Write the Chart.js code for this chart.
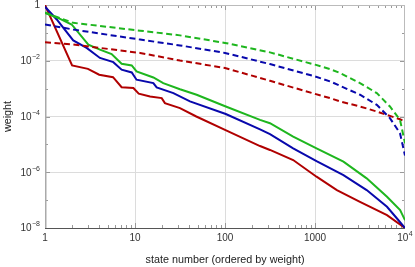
<!DOCTYPE html>
<html>
<head>
<meta charset="utf-8">
<script src="https://cdn.jsdelivr.net/npm/chart.js@4/dist/chart.umd.min.js"></script>
<style>
  html, body { margin: 0; padding: 0; background: #fff; }
  #box { width: 415px; height: 267px; }
</style>
</head>
<body>
<div id="box"><canvas id="grafico1" width="415" height="267"></canvas></div>
<script>
// solid curves
var xRed = [1, 2, 3, 4, 5.7, 7.1, 9.6, 11, 14.7, 19.8, 21.5, 31.6, 48, 100, 245, 316, 572, 1040, 1750, 3160, 6310, 10000];
var yRed = [1, 6.76e-3, 5.13e-3, 3.16e-3, 2.57e-3, 1.12e-3, 1.05e-3, 6.61e-4, 5.25e-4, 4.57e-4, 3.02e-4, 2.0e-4, 1.0e-4, 3.31e-5, 8.71e-6, 6.31e-6, 2.75e-6, 6.92e-7, 2.29e-7, 8.71e-8, 2.88e-8, 1e-8];

var xBlue = [1, 1.35, 2.06, 2.9, 4.08, 5.74, 7.1, 9.2, 10.4, 16, 17.4, 26.7, 40.8, 102, 245, 316, 572, 1040, 2070, 3750, 6310, 8150, 10000];
var yBlue = [0.871, 0.302, 0.0537, 0.0288, 0.0126, 8.91e-3, 4.79e-3, 3.80e-3, 2.09e-3, 1.58e-3, 1.10e-3, 6.92e-4, 3.47e-4, 1.23e-4, 3.47e-5, 2.34e-5, 7.24e-6, 2.51e-6, 7.94e-7, 2.29e-7, 5.75e-8, 2.19e-8, 1e-8];

var xGreen = [1, 1.47, 1.98, 3.03, 4.08, 5.5, 7.1, 9.2, 10.4, 16, 20.6, 31.6, 48.4, 102, 245, 316, 572, 1040, 2070, 3750, 6310, 8830, 10000];
var yGreen = [0.525, 0.316, 0.200, 0.0380, 0.0251, 0.0174, 7.76e-3, 6.76e-3, 4.17e-3, 2.51e-3, 1.58e-3, 9.55e-4, 6.03e-4, 2.29e-4, 7.59e-5, 5.75e-5, 1.91e-5, 7.24e-6, 2.40e-6, 6.03e-7, 1.32e-7, 4.37e-8, 1.91e-8];

// dashed curves (same x for all three)
var xDash = [1, 2.06, 11.4, 31.6, 100, 316, 1000, 1470, 1900, 3160, 4860, 6800, 8800, 10000];
var yGreenDash = [0.525, 0.229, 0.120, 0.0813, 0.0437, 0.0200, 7.24e-3, 5.01e-3, 3.63e-3, 1.58e-3, 6.92e-4, 2.29e-4, 7.59e-5, 1.1e-5];
var yBlueDash = [0.200, 0.132, 0.0575, 0.0355, 0.0191, 7.59e-3, 2.75e-3, 1.82e-3, 1.26e-3, 6.03e-4, 2.63e-4, 8.71e-5, 2.51e-5, 4.0e-6];
var yRedDash = [0.0457, 0.0380, 0.0191, 0.0102, 5.50e-3, 1.91e-3, 6.46e-4, 4.57e-4, 3.47e-4, 2.29e-4, 1.51e-4, 1.05e-4, 7.94e-5, 6.61e-5];

// ticks: [base, exponent]
var xTickVals = [1, 10, 100, 1000, 10000];
var xTickLabels = [["1", ""], ["10", ""], ["100", ""], ["1000", ""], ["10", "4"]];
var yTickVals = [1e-8, 1e-6, 1e-4, 1e-2, 1];
var yTickLabels = [["10", "\u22128"], ["10", "\u22126"], ["10", "\u22124"], ["10", "\u22122"], ["1", ""]];

var verde = "rgb(30,182,30)";
var azul = "rgb(8,8,172)";
var vermelho = "rgb(176,0,0)";
var fonte = "Liberation Sans, Arial, sans-serif";

function pares(xs, ys) {
  var out = [];
  for (var i = 0; i < xs.length; i++) out.push({ x: xs[i], y: ys[i] });
  return out;
}

function linha(xs, ys, cor, tracejado) {
  return {
    data: pares(xs, ys),
    borderColor: cor,
    borderWidth: 2,
    borderDash: tracejado ? [6, 3.5] : [],
    pointRadius: 0,
    tension: 0,
    fill: false,
  };
}

// label with superscript, anchored at (x, y); align = "right" or "center"
function rotulo(ctx, base, exp, x, y, align) {
  ctx.font = "10px " + fonte;
  var wb = ctx.measureText(base).width;
  ctx.font = "7px " + fonte;
  var we = exp ? ctx.measureText(exp).width + 0.5 : 0;
  var x0 = align == "right" ? x - wb - we : x - (wb + we) / 2;
  ctx.textAlign = "left";
  ctx.textBaseline = "middle";
  ctx.font = "10px " + fonte;
  ctx.fillText(base, x0, y);
  if (exp) {
    ctx.font = "7px " + fonte;
    ctx.fillText(exp, x0 + wb + 0.5, y - 4);
  }
}

// frame + inward ticks (Mathematica style) + tick labels
var moldura = {
  id: "moldura",
  beforeDatasetsDraw(chart) {
    var ctx = chart.ctx;
    var a = chart.chartArea;
    var sx = chart.scales.x;
    var sy = chart.scales.y;
    ctx.save();
    ctx.strokeStyle = "#999";
    ctx.lineWidth = 1;
    ctx.beginPath();
    for (var d = 1; d <= 1000; d *= 10) {
      for (var m = 1; m <= 9; m++) {
        var v = d * m;
        if (v <= 1 || v >= 10000) continue;
        var px = Math.round(sx.getPixelForValue(v)) + 0.5;
        var len = m == 1 ? 5 : 3;
        ctx.moveTo(px, a.bottom); ctx.lineTo(px, a.bottom - len);
        ctx.moveTo(px, a.top); ctx.lineTo(px, a.top + len);
      }
    }
    for (var e = -7; e <= -1; e++) {
      var py = Math.round(sy.getPixelForValue(Math.pow(10, e))) + 0.5;
      var l2 = e % 2 == 0 ? 5 : 3;
      ctx.moveTo(a.left, py); ctx.lineTo(a.left + l2, py);
      ctx.moveTo(a.right, py); ctx.lineTo(a.right - l2, py);
    }
    ctx.stroke();
    ctx.strokeStyle = "#bbb";
    ctx.beginPath();
    ctx.moveTo(a.left, a.top + 0.5); ctx.lineTo(a.right, a.top + 0.5);
    ctx.moveTo(a.right - 0.5, a.top); ctx.lineTo(a.right - 0.5, a.bottom);
    ctx.stroke();
    ctx.strokeStyle = "#aaa";
    ctx.lineWidth = 1.5;
    ctx.beginPath();
    ctx.moveTo(a.left + 0.75, a.top); ctx.lineTo(a.left + 0.75, a.bottom);
    ctx.stroke();
    ctx.strokeStyle = "#555";
    ctx.lineWidth = 1;
    ctx.beginPath();
    ctx.moveTo(a.left, a.bottom + 0.5); ctx.lineTo(a.right, a.bottom + 0.5);
    ctx.stroke();

    ctx.fillStyle = "#333";
    for (var i = 0; i < xTickVals.length; i++) {
      rotulo(ctx, xTickLabels[i][0], xTickLabels[i][1], sx.getPixelForValue(xTickVals[i]), a.bottom + 10.5, "center");
    }
    for (var j = 0; j < yTickVals.length; j++) {
      rotulo(ctx, yTickLabels[j][0], yTickLabels[j][1], a.left - 5, sy.getPixelForValue(yTickVals[j]) + 0.5, "right");
    }
    ctx.restore();
  },
};

const config = {
  type: "line",
  data: {
    datasets: [
      linha(xDash, yGreenDash, verde, true),
      linha(xDash, yBlueDash, azul, true),
      linha(xDash, yRedDash, vermelho, true),
      linha(xGreen, yGreen, verde, false),
      linha(xBlue, yBlue, azul, false),
      linha(xRed, yRed, vermelho, false),
    ],
  },
  options: {
    responsive: false,
    animation: false,
    layout: { padding: { top: 5, right: 10, left: 0, bottom: 0 } },
    plugins: { legend: { display: false }, tooltip: { enabled: false } },
    scales: {
      x: {
        type: "logarithmic",
        min: 1,
        max: 10000,
        afterBuildTicks: (scale) => {
          scale.ticks = xTickVals.map((v) => ({ value: v }));
        },
        afterFit: (scale) => {
          scale.height = 39;
        },
        ticks: { display: false },
        grid: {
          drawTicks: false,
          color: (c) => (c.tick && c.tick.value > 1 && c.tick.value < 10000 ? "#dcdcdc" : "rgba(0,0,0,0)"),
        },
        border: { display: false },
        title: {
          display: true,
          text: "state number (ordered by weight)",
          color: "#222",
          font: { family: fonte, size: 10.8 },
          padding: { top: 0, bottom: 0 },
        },
      },
      y: {
        type: "logarithmic",
        min: 1e-8,
        max: 1,
        afterBuildTicks: (scale) => {
          scale.ticks = yTickVals.map((v) => ({ value: v }));
        },
        afterFit: (scale) => {
          scale.width = 45;
        },
        ticks: { display: false },
        grid: {
          drawTicks: false,
          color: (c) => (c.tick && c.tick.value > 1e-8 && c.tick.value < 1 ? "#dcdcdc" : "rgba(0,0,0,0)"),
        },
        border: { display: false },
        title: {
          display: true,
          text: "weight",
          color: "#222",
          font: { family: fonte, size: 10.8 },
          padding: { top: 2, bottom: 0 },
        },
      },
    },
  },
  plugins: [moldura],
};

let myChart = new Chart(document.getElementById("grafico1"), config);
</script>
</body>
</html>
